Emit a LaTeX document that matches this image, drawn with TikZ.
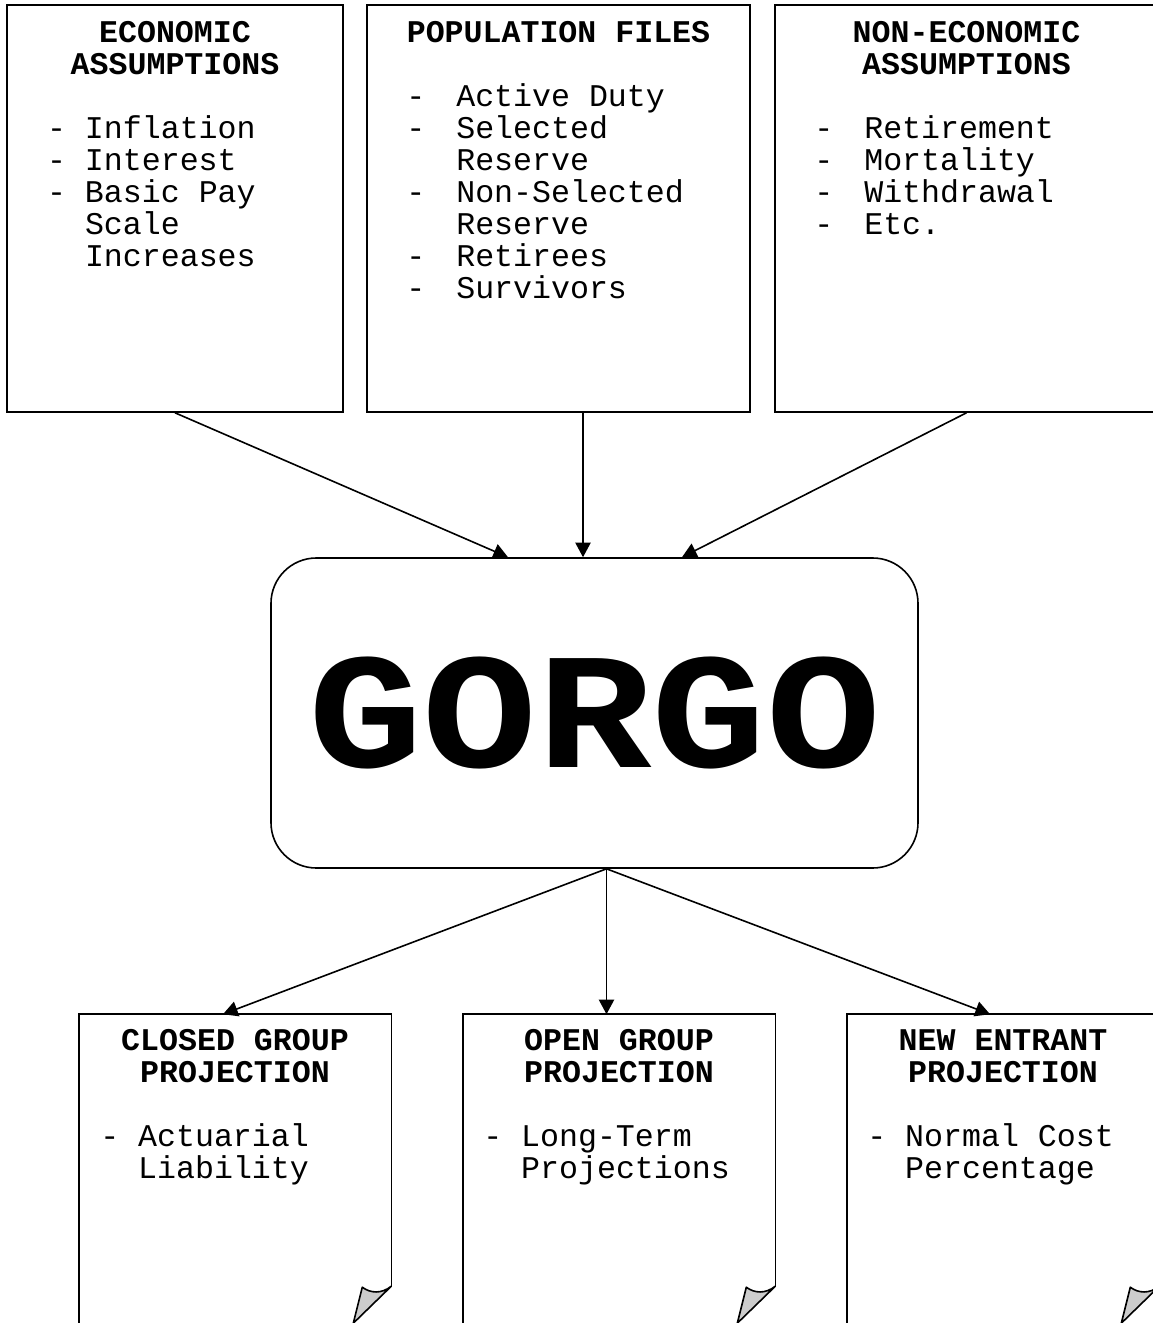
\documentclass[tikz,border=0pt]{standalone}
\usepackage{fontspec}
\usepackage{graphicx}
\newfontfamily\cour{Liberation Mono}
\usetikzlibrary{arrows.meta,calc}
\newcommand\itm[2]{\makebox[#1][l]{-}#2}
\newcommand\itc[2]{\hspace*{#1}#2}
\newcommand\fstrut{\rule{0pt}{18pt}}
\newcommand\docpage[1]{%
  \draw (#1.south west) -- (#1.north west) -- (#1.north east) -- ($(#1.north east)+(0,272)$);
  \filldraw[fill=black!20, line join=round] ($(#1.north east)+(0,272)$)
    .. controls ($(#1.north east)+(-10,280)$) and ($(#1.north east)+(-21,279)$) ..
    ($(#1.north east)+(-29,273)$) -- ($(#1.north east)+(-38,309)$) -- cycle;}
\tikzset{
  box/.style={draw, rectangle, minimum width=#1, minimum height=305.25pt, inner sep=0pt},
  docnode/.style={rectangle, minimum width=233.25pt, minimum height=243.75pt, inner sep=0pt},
  gbox/.style={draw, rectangle, rounded corners=34pt, minimum width=485.25pt, minimum height=232.5pt, inner sep=0pt,
    font=\cour\bfseries\fontsize{124}{124}\selectfont},
  ttl/.style={font=\cour\bfseries\fontsize{23.7}{24}\selectfont, align=center, inner sep=0pt, anchor=north},
  lst/.style={font=\cour\fontsize{23.7}{24}\selectfont, align=left, inner sep=0pt, anchor=north west},
  arr/.style={-{Triangle[length=11pt,width=11.5pt]}}
}
\begin{document}
\begin{tikzpicture}[x=0.75pt,y=-0.75pt,line width=1.2pt]
\useasboundingbox (0,0) rectangle (1152,1323);
% top boxes
\node[box=252pt] (econ) at (175,208.5) {};
\node[box=287.25pt] (pop) at (558.5,208.5) {};
\node[box=287.25pt] (nonecon) at (966.5,208.5) {};
\node[ttl] (econT) at (175,18) {\fstrut ECONOMIC\\ASSUMPTIONS};
\node[lst] (econL) at (46.3,114) {\fstrut\itm{28.44pt}{Inflation}\\\itm{28.44pt}{Interest}\\\itm{28.44pt}{Basic Pay}\\\itc{28.44pt}{Scale}\\\itc{28.44pt}{Increases}};
\node[ttl] (popT) at (558.5,18) {\fstrut POPULATION FILES};
\node[lst] (popL) at (405.5,82) {\fstrut\itm{37.5pt}{Active Duty}\\\itm{37.5pt}{Selected}\\\itc{37.5pt}{Reserve}\\\itm{37.5pt}{Non-Selected}\\\itc{37.5pt}{Reserve}\\\itm{37.5pt}{Retirees}\\\itm{37.5pt}{Survivors}};
\node[ttl] (nonT) at (966.5,18) {\fstrut NON-ECONOMIC\\ASSUMPTIONS};
\node[lst] (nonL) at (813.5,114) {\fstrut\itm{37.5pt}{Retirement}\\\itm{37.5pt}{Mortality}\\\itm{37.5pt}{Withdrawal}\\\itm{37.5pt}{Etc.}};
% central box
\node[gbox] (gorgo) at (594.5,713) {\scalebox{1.155}[1]{GORGO}};
% bottom documents
\node[docnode] (closed) at (235,1177.5) {};
\node[docnode] (open) at (619,1177.5) {};
\node[docnode] (newent) at (1003,1177.5) {};
\docpage{closed}
\docpage{open}
\docpage{newent}
\node[ttl] (closedT) at (235,1026) {\fstrut CLOSED GROUP\\PROJECTION};
\node[lst] (closedL) at (99.5,1122) {\fstrut\itm{28.44pt}{Actuarial}\\\itc{28.44pt}{Liability}};
\node[ttl] (openT) at (619,1026) {\fstrut OPEN GROUP\\PROJECTION};
\node[lst] (openL) at (482.5,1122) {\fstrut\itm{28.44pt}{Long-Term}\\\itc{28.44pt}{Projections}};
\node[ttl] (newT) at (1003,1026) {\fstrut NEW ENTRANT\\PROJECTION};
\node[lst] (newL) at (866.5,1122) {\fstrut\itm{28.44pt}{Normal Cost}\\\itc{28.44pt}{Percentage}};
% connectors
\draw[arr] (econ.south) -- ($(gorgo.north)+(-86.5,0)$);
\draw[arr] ($(pop.south)+(24.5,0)$) -- ($(gorgo.north)+(-11.5,0)$);
\draw[arr] (nonecon.south) -- ($(gorgo.north)+(87.5,0)$);
\coordinate (gout) at ($(gorgo.south)+(12,0)$);
\draw[arr] (gout) -- ($(closed.north)+(-12,0)$);
\draw[arr] (gout) -- ($(open.north)+(-12.5,0)$);
\draw[arr] (gout) -- ($(newent.north)+(-13,0)$);
\end{tikzpicture}
\end{document}
